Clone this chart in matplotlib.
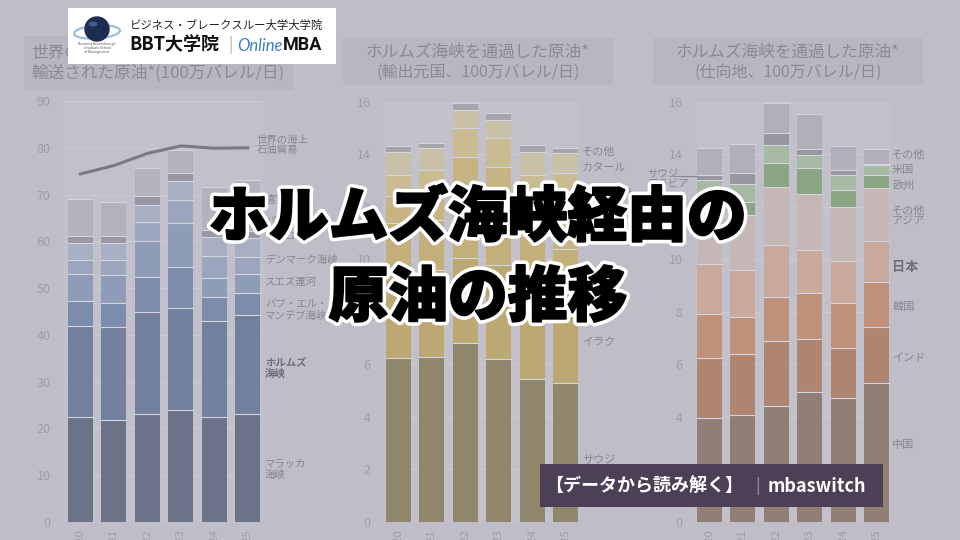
import matplotlib
matplotlib.use('Agg')
import matplotlib.pyplot as plt
import matplotlib.patheffects as pe
from matplotlib.patches import Rectangle, Circle, Ellipse
import numpy as np

plt.rcParams['font.family'] = ['Noto Sans CJK JP', 'DejaVu Sans']

years = ['2020', '2021', '2022', '2023', '2024', '2025']

# --- left: crude moved through chokepoints (million b/d) ---
route_names = ['マラッカ\n海峡', 'ホルムズ\n海峡', 'バブ・エル・\nマンデブ海峡', 'スエズ運河',
               'デンマーク海峡', 'トルコ海峡', 'パナマ運河', '喜望峰']
malacca = [22.5, 21.9, 23.0, 23.9, 22.4, 23.1]
hormuz = [19.4, 19.8, 21.8, 21.9, 20.6, 21.1]
bab_el_mandeb = [5.4, 5.2, 7.5, 8.8, 5.0, 4.7]
suez = [5.8, 5.9, 7.7, 9.4, 4.1, 4.1]
denmark = [3.0, 3.2, 4.2, 4.8, 4.7, 3.6]
turkish = [3.6, 3.6, 3.5, 4.2, 4.2, 4.2]
panama = [1.4, 1.5, 2.0, 1.7, 1.4, 1.4]
good_hope = [7.9, 7.3, 5.9, 4.8, 9.2, 10.9]
world_trade = [74.4, 76.2, 78.8, 80.4, 79.9, 80.0]

# --- middle: Hormuz flows by exporter ---
origin_names = ['サウジ\nアラビア', 'イラク', 'UAE', 'イラン', 'クウェート', 'カタール', 'その他']
saudi_exp = [6.24, 6.30, 6.81, 6.20, 5.46, 5.28]
iraq_exp = [3.26, 3.30, 3.25, 3.60, 3.24, 3.12]
uae_exp = [1.88, 1.90, 2.44, 2.40, 2.20, 2.00]
iran_exp = [1.02, 1.00, 1.40, 1.30, 1.20, 1.40]
kuwait_exp = [0.82, 0.90, 1.10, 1.10, 1.10, 1.50]
qatar_exp = [0.88, 0.84, 0.70, 0.71, 0.87, 0.75]
other_exp = [0.22, 0.19, 0.25, 0.26, 0.29, 0.19]

# --- right: Hormuz flows by destination ---
dest_names = ['中国', 'インド', '韓国', '日本', 'その他\nアジア', '欧州', '米国', 'サウジアラビア', 'その他']
china = [3.95, 4.08, 4.42, 4.96, 4.71, 5.28]
india = [2.29, 2.32, 2.48, 2.00, 1.91, 2.16]
korea = [1.67, 1.42, 1.68, 1.75, 1.73, 1.71]
japan = [1.91, 1.78, 1.97, 1.65, 1.57, 1.53]
other_asia = [2.06, 2.10, 2.22, 2.14, 2.09, 2.03]
europe = [0.51, 0.50, 0.89, 0.97, 0.64, 0.50]
usa = [0.64, 0.68, 0.70, 0.51, 0.57, 0.38]
saudi_dest = [0.19, 0.40, 0.45, 0.22, 0.19, 0.03]
other_dest = [1.02, 1.11, 1.14, 1.34, 0.89, 0.58]

BG = '#bfbec8'
W, H = 960, 540
fig = plt.figure(figsize=(9.6, 5.4), dpi=100, facecolor=BG)


def px_axes(x0, x1, y_top, y_bot, **kw):
    return fig.add_axes([x0 / W, 1 - y_bot / H, (x1 - x0) / W, (y_bot - y_top) / H], **kw)


bg = px_axes(0, W, 0, H, zorder=-5)
bg.set_xlim(0, W)
bg.set_ylim(H, 0)
bg.axis('off')


def stacked(ax, series, colors, xlim, ymax, step):
    x = np.arange(len(years))
    bottom = np.zeros(len(years))
    for vals, c in zip(series, colors):
        ax.bar(x, vals, width=0.75, bottom=bottom, color=c, edgecolor='none', zorder=2)
        bottom = bottom + np.array(vals)
        for xi, b in zip(x, bottom):
            ax.plot([xi - 0.375, xi + 0.375], [b, b], color='#d3d4e0', lw=0.8, zorder=3)
    ax.set_xlim(*xlim)
    ax.set_ylim(0, ymax)
    ax.set_facecolor('#c2c1cb')
    ax.set_yticks(np.arange(0, ymax + 0.01, step))
    ax.set_xticks(x)
    ax.set_xticklabels(years, rotation=90)
    ax.tick_params(length=0, labelcolor='#9e9da8')
    ax.tick_params(axis='y', pad=9, labelsize=9)
    ax.tick_params(axis='x', pad=5, labelsize=8)
    ax.grid(axis='y', color='#cbcad3', lw=1, zorder=0)
    for s in ax.spines.values():
        s.set_visible(False)


def side_labels(ax, names, ys, xpos, size=7.5, bold=()):
    for name, y in zip(names, ys):
        if name is None:
            continue
        isb = name in bold
        ax.text(xpos, y, name, fontsize=size + (1.5 if name == '日本' else 0),
                color='#6e6d79' if isb else '#878692',
                fontweight='bold' if isb else 'normal',
                ha='left', va='center', linespacing=1.1, clip_on=False)


# left chart
ax1 = px_axes(63, 263, 101, 522)
stacked(ax1, [malacca, hormuz, bab_el_mandeb, suez, denmark, turkish, panama, good_hope],
        ['#6c7389', '#72809d', '#7c8dac', '#8e9cb8', '#9ba6be', '#a9afc3', '#9897a3', '#b3b2bd'],
        (-0.52, 5.45), 90, 10)
ax1.plot(np.arange(len(years)), world_trade, color='#7a7a86', lw=2.2, zorder=4)
side_labels(ax1, route_names, [11.3, 32.9, 45.3, 51.3, 56.0, 61.3, 64.3, 68.8], 5.51,
            bold=('ホルムズ\n海峡',))
ax1.text(5.27, 80.6, '世界の海上\n石油貿易', fontsize=7.5, color='#878692', ha='left',
         va='center', linespacing=1.1, clip_on=False)

# middle chart
ax2 = px_axes(383, 578, 101.7, 522)
stacked(ax2, [saudi_exp, iraq_exp, uae_exp, iran_exp, kuwait_exp, qatar_exp, other_exp],
        ['#8f866b', '#bba873', '#c2af7a', '#c6b583', '#c9bb92', '#c9c1a7', '#a5a4ab'],
        (-0.46, 5.37), 16, 2)
side_labels(ax2, origin_names, [2.2, 6.86, 9.49, 11.05, 12.53, 13.49, 14.1], 5.49, size=8)

# right chart
ax3 = px_axes(695, 890, 101.7, 522)
stacked(ax3, [china, india, korea, japan, other_asia, europe, usa, saudi_dest, other_dest],
        ['#917f75', '#ae8571', '#bf917a', '#c8a99b', '#c5b7b5', '#89a582', '#a6b9a2',
         '#98969f', '#b1afb9'],
        (-0.43, 5.39), 16, 2)
side_labels(ax3, [n if n != 'サウジアラビア' else None for n in dest_names],
            [2.93, 6.24, 8.2, 9.71, 11.64, 12.8, 13.41, 0, 13.98], 5.45, size=8, bold=('日本',))
ax3.text(-1.84, 13.07, 'サウジ\nアラビア', fontsize=7.5, color='#878692', ha='left',
         va='center', linespacing=1.1, clip_on=False)
ax3.plot([-1.1, -0.375], [13.18, 13.18], color='#878692', lw=0.8, clip_on=False)

# chart title boxes
tcol = '#8a8995'
for (x0, x1, y0, y1) in [(24, 293, 36, 90), (343, 613, 38, 85), (653, 923, 38, 85)]:
    bg.add_patch(Rectangle((x0, y0), x1 - x0, y1 - y0, color='#b8b7c1', lw=0))
bg.text(31, 53, '世界の主要チョークポイントを', fontsize=12, color=tcol, ha='left', va='center')
bg.text(31, 73, '輸送された原油*(100万バレル/日)', fontsize=12, color=tcol, ha='left', va='center')
bg.text(478, 52, 'ホルムズ海峡を通過した原油*', fontsize=12, color=tcol, ha='center', va='center')
bg.text(478, 72, '(輸出元国、100万バレル/日)', fontsize=11.5, color=tcol, ha='center', va='center')
bg.text(788, 52, 'ホルムズ海峡を通過した原油*', fontsize=12, color=tcol, ha='center', va='center')
bg.text(788, 72, '(仕向地、100万バレル/日)', fontsize=11.5, color=tcol, ha='center', va='center')

# foreground layer: logo, headline, tag
fg = px_axes(0, W, 0, H, zorder=10)
fg.set_xlim(0, W)
fg.set_ylim(H, 0)
fg.axis('off')
fg.patch.set_alpha(0)

fg.add_patch(Rectangle((68, 8), 268, 56, color='white', lw=0))
fg.add_patch(Ellipse((97, 32), 46, 13, angle=-4, fill=False, ec='#9dbde0', lw=1.6))
fg.add_patch(Circle((97, 29), 12, color='#1c2d52'))
fg.add_patch(Ellipse((93, 24), 9, 5, color='#3e5c8e', lw=0))
fg.text(97, 48, 'Business Breakthrough\nGraduate School\nof Management', fontsize=2.5,
        color='#555555', ha='center', va='center', linespacing=1.0)
fg.text(130, 25, 'ビジネス・ブレークスルー大学大学院', fontsize=8.2, color='#222222',
        ha='left', va='center')
fg.text(129, 45, 'BBT大学院', fontsize=13, fontweight='bold', color='#111111',
        ha='left', va='center')
fg.text(230, 45, '|', fontsize=11, color='#aaaaaa', ha='center', va='center')
fg.text(237, 46, 'Online', fontsize=12, fontstyle='italic', color='#3d7fc1',
        family=['Lato', 'DejaVu Sans'], ha='left', va='center')
fg.text(283, 45, 'MBA', fontsize=13, fontweight='bold', color='#111111',
        family=['Roboto', 'DejaVu Sans'], ha='left', va='center')

# heavy headline: thin black stroke thickens the glyphs, white halo outside
stroke = [pe.withStroke(linewidth=6.5, foreground='white'),
          pe.withStroke(linewidth=1.4, foreground='black')]
fg.text(478, 218, 'ホルムズ海峡経由の', fontsize=43, fontweight=900, color='black',
        ha='center', va='center', path_effects=stroke)
fg.text(478, 298, '原油の推移', fontsize=43, fontweight=900, color='black',
        ha='center', va='center', path_effects=stroke)

fg.add_patch(Rectangle((540, 464), 343, 43, color='#4b4056', lw=0))
fg.text(545, 486, '【データから読み解く】', fontsize=13, fontweight='bold', color='white',
        ha='left', va='center')
fg.text(758, 486, '|', fontsize=12, color='#9c93a6', ha='center', va='center')
fg.text(768, 486, 'mbaswitch', fontsize=13, fontweight='bold', color='white',
        ha='left', va='center')

fig.savefig('out.png', dpi=100, facecolor=BG)
